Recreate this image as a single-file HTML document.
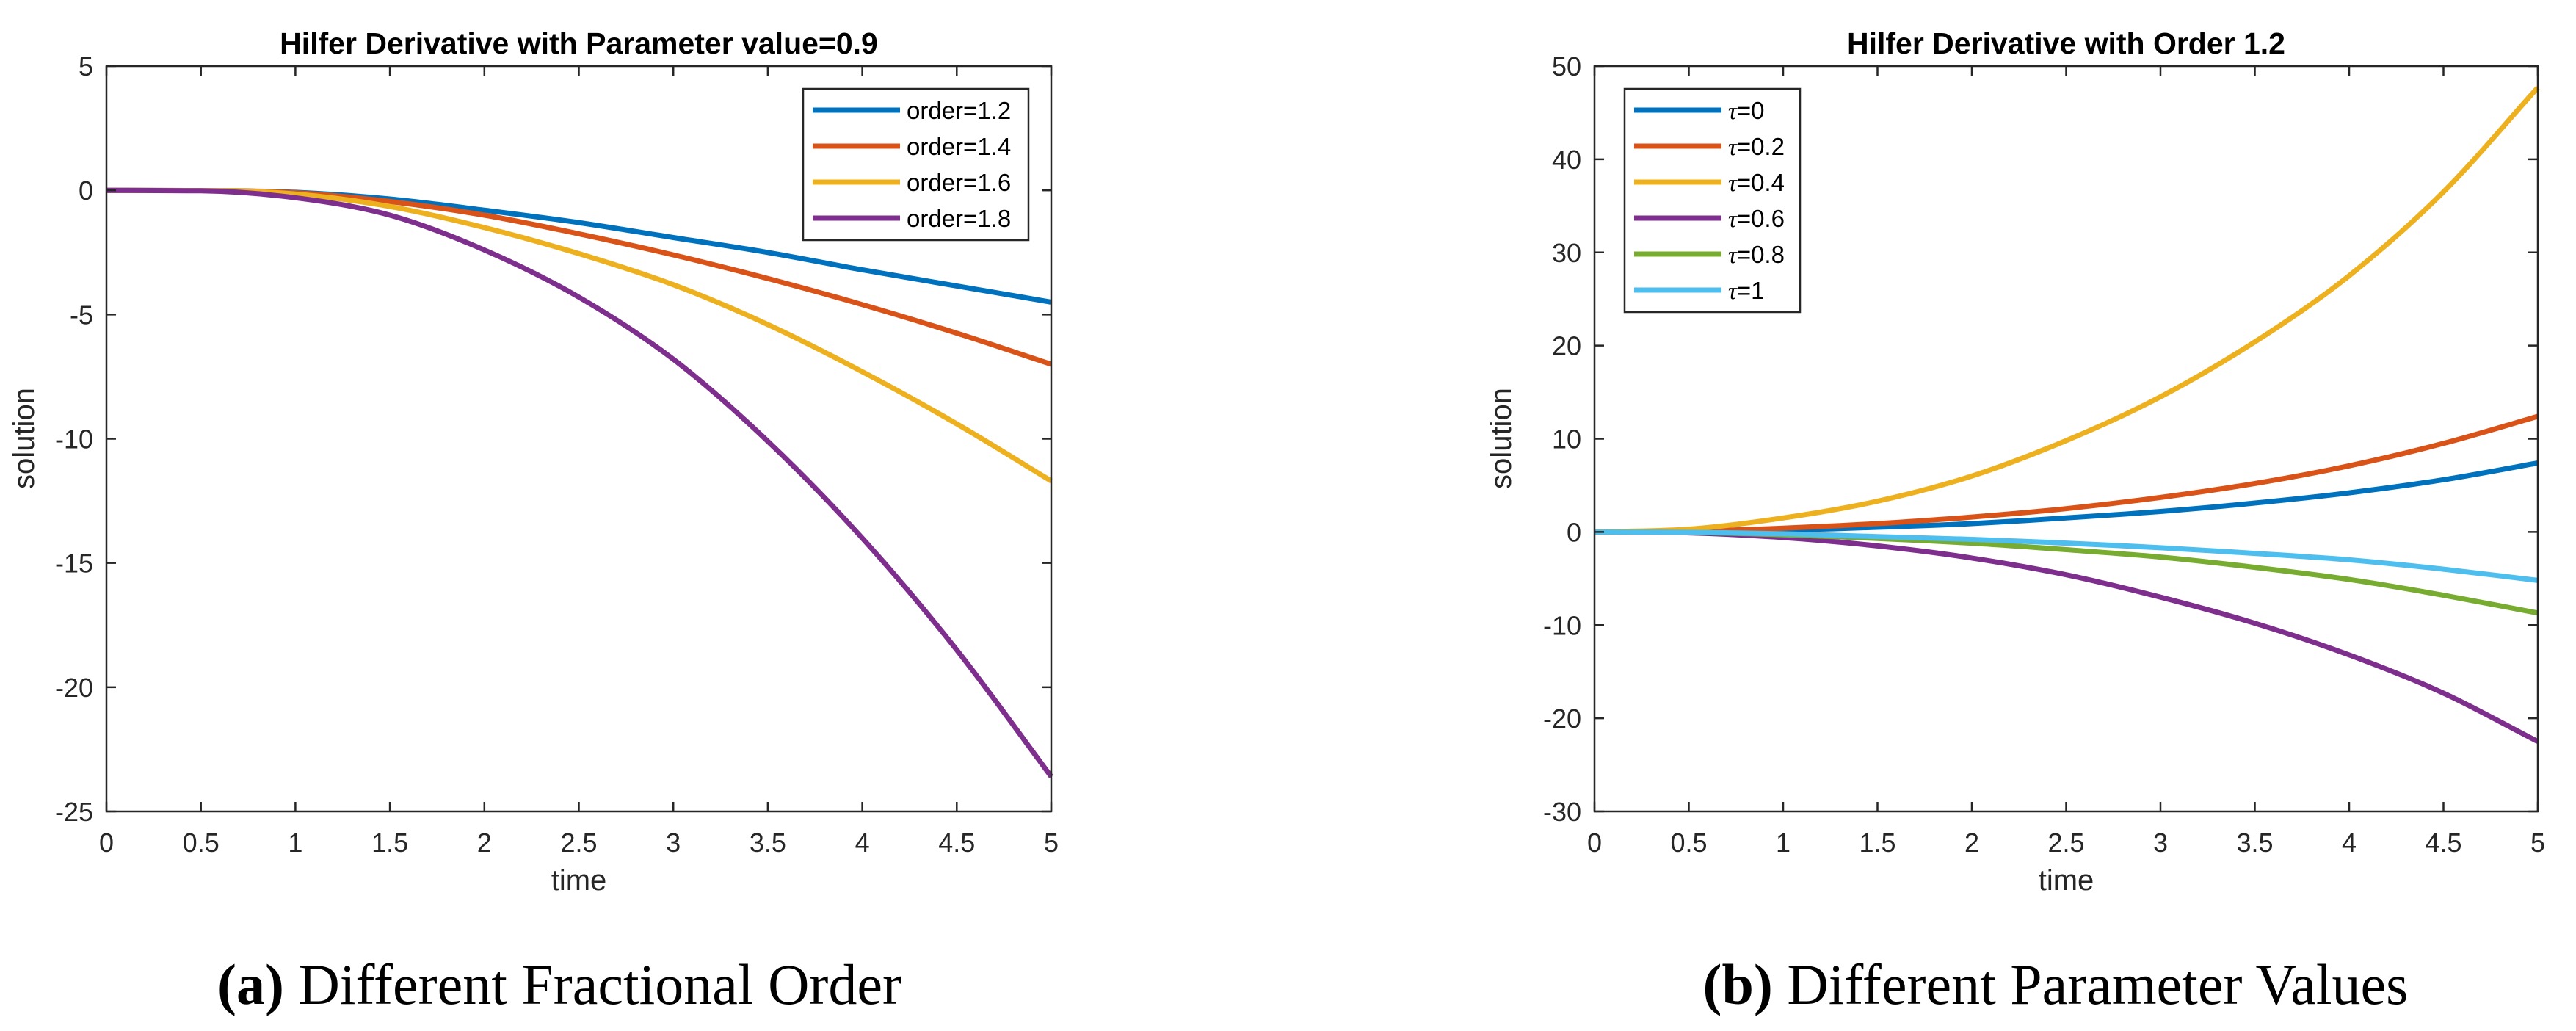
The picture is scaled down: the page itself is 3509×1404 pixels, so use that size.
<!DOCTYPE html>
<html><head><meta charset="utf-8"><style>
html,body{margin:0;padding:0;background:#fff;}
svg{display:block;}
text{font-family:"Liberation Sans",sans-serif;fill:#262626;}
.cap{font-family:"Liberation Serif",serif;fill:#000;}
</style></head><body>
<svg id="fig" width="3509" height="1404" viewBox="0 0 3509 1404" xmlns="http://www.w3.org/2000/svg"></svg>
<script>
const xTicks=[0,0.5,1,1.5,2,2.5,3,3.5,4,4.5,5];
const xTickLabels=["0","0.5","1","1.5","2","2.5","3","3.5","4","4.5","5"];
const leftYTicks=[5,0,-5,-10,-15,-20,-25];
const rightYTicks=[50,40,30,20,10,0,-10,-20,-30];
const tGrid=[0,0.5,1,1.5,2,2.5,3,3.5,4,4.5,5];
const leftNames=["order=1.2","order=1.4","order=1.6","order=1.8"];
const order12=[0,-0.01,-0.08,-0.35,-0.8,-1.3,-1.9,-2.5,-3.2,-3.85,-4.5];
const order14=[0,-0.01,-0.1,-0.45,-1.0,-1.75,-2.6,-3.55,-4.6,-5.75,-7.0];
const order16=[0,-0.01,-0.15,-0.65,-1.5,-2.55,-3.8,-5.4,-7.3,-9.4,-11.7];
const order18=[0,-0.02,-0.3,-1.0,-2.4,-4.3,-6.8,-10.1,-14.0,-18.5,-23.6];
const rightNames=["0","0.2","0.4","0.6","0.8","1"];
const tau0=[0,0.05,0.2,0.5,0.9,1.5,2.2,3.1,4.2,5.6,7.4];
const tau02=[0,0.08,0.4,0.9,1.6,2.5,3.7,5.2,7.1,9.5,12.4];
const tau04=[0,0.3,1.5,3.3,6.0,9.8,14.5,20.4,27.5,36.5,47.7];
const tau06=[0,-0.1,-0.6,-1.5,-2.8,-4.6,-7.0,-9.8,-13.2,-17.3,-22.5];
const tau08=[0,-0.05,-0.3,-0.7,-1.2,-1.9,-2.7,-3.8,-5.1,-6.8,-8.7];
const tau1=[0,-0.04,-0.2,-0.5,-0.8,-1.2,-1.7,-2.3,-3.0,-4.0,-5.2];
const colors=["#0072BD","#D95319","#EDB120","#7E2F8E","#77AC30","#4DBEEE"];

const NS="http://www.w3.org/2000/svg";
const svg=document.getElementById('fig');
function mk(tag,attrs,parent){const e=document.createElementNS(NS,tag);for(const k in attrs)e.setAttribute(k,attrs[k]);(parent||svg).appendChild(e);return e;}

// monotone cubic (Fritsch-Carlson) path
function smoothPath(pts){
  const n=pts.length,dx=[],m=[],t=[];
  for(let i=0;i<n-1;i++){dx[i]=pts[i+1][0]-pts[i][0];m[i]=(pts[i+1][1]-pts[i][1])/dx[i];}
  t[0]=m[0];t[n-1]=m[n-2];
  for(let i=1;i<n-1;i++){t[i]=(m[i-1]*m[i]<=0)?0:(m[i-1]+m[i])/2;}
  for(let i=0;i<n-1;i++){
    if(m[i]===0){t[i]=0;t[i+1]=0;continue;}
    const a=t[i]/m[i],b=t[i+1]/m[i],s=a*a+b*b;
    if(s>9){const k=3/Math.sqrt(s);t[i]=k*a*m[i];t[i+1]=k*b*m[i];}
  }
  let d="M"+pts[0][0].toFixed(1)+","+pts[0][1].toFixed(1);
  for(let i=0;i<n-1;i++){
    const h=dx[i]/3;
    d+=" C"+(pts[i][0]+h).toFixed(1)+","+(pts[i][1]+t[i]*h).toFixed(1)+" "+(pts[i+1][0]-h).toFixed(1)+","+(pts[i+1][1]-t[i+1]*h).toFixed(1)+" "+pts[i+1][0].toFixed(1)+","+pts[i+1][1].toFixed(1);
  }
  return d;
}

function panel(cfg){
  const g=mk('g',{});
  
  
  const L=cfg.x0,R=cfg.x1,T=90,B=1105;
  const sx=v=>L+(v-0)/(5-0)*(R-L);
  const sy=v=>T+(cfg.ymax-v)/(cfg.ymax-cfg.ymin)*(B-T);
  cfg.series.forEach((s,i)=>{
    const pts=tGrid.map((t,j)=>[sx(t),sy(s[j])]);
    const p=mk('path',{d:smoothPath(pts),fill:'none',stroke:colors[i],'stroke-width':7,'stroke-linejoin':'round'},g);
    
    
  });
  const box=mk('rect',{x:L,y:T,width:R-L,height:B-T,fill:'none',stroke:'#262626','stroke-width':2.5},g);
  
  
  xTicks.forEach((t,i)=>{
    const x=sx(t);
    mk('line',{x1:x,y1:B,x2:x,y2:B-13,stroke:'#262626','stroke-width':2.5},g);
    mk('line',{x1:x,y1:T,x2:x,y2:T+13,stroke:'#262626','stroke-width':2.5},g);
    const tx=mk('text',{x:x,y:1160,'font-size':36,'text-anchor':'middle'},g);
    tx.textContent=xTickLabels[i];
    
    
  });
  cfg.yTicks.forEach(v=>{
    const y=sy(v);
    mk('line',{x1:L,y1:y,x2:L+13,y2:y,stroke:'#262626','stroke-width':2.5},g);
    mk('line',{x1:R,y1:y,x2:R-13,y2:y,stroke:'#262626','stroke-width':2.5},g);
    const tx=mk('text',{x:L-18,y:y+13,'font-size':36,'text-anchor':'end'},g);
    tx.textContent=String(v);
    
    
  });
  const cx=(L+R)/2;
  const ti=mk('text',{x:cx,y:73,'font-size':41,'font-weight':'bold','text-anchor':'middle'},g);
  ti.textContent=cfg.title;ti.style.fill='#000';
  
  
  const xl=mk('text',{x:cx,y:1212,'font-size':40,'text-anchor':'middle'},g);
  xl.textContent='time';
  
  
  const yl=mk('text',{x:0,y:0,'font-size':40,'text-anchor':'middle',transform:'translate('+(cfg.ylx)+',597) rotate(-90)'},g);
  yl.textContent='solution';
  
  
  const lg=mk('g',{},g);
  
  
  const lb=cfg.leg;
  mk('rect',{x:lb.x,y:lb.y,width:lb.w,height:lb.h,fill:'#fff',stroke:'#262626','stroke-width':2.5},lg);
  cfg.names.forEach((n,i)=>{
    const y=150+49*i;
    const e=mk('g',{},lg);
    
    
    mk('line',{x1:lb.x+13,y1:y,x2:lb.x+132,y2:y,stroke:colors[i],'stroke-width':7},e);
    const t=mk('text',{x:lb.x+141,y:y+12,'font-size':33},e);
    t.style.fill='#000';
    if(cfg.tau){
      const s1=mk('tspan',{'font-family':'Liberation Serif','font-style':'italic'},t);s1.textContent='τ';
      const s2=mk('tspan',{},t);s2.textContent='='+n;
    } else t.textContent=n;
  });
  const cap=mk('text',{x:cfg.capx,y:1367,'font-size':78,'text-anchor':'middle',class:'cap'},g);
  
  
  const b=mk('tspan',{'font-weight':'bold'},cap);b.textContent=cfg.capLabel;
  const r=mk('tspan',{},cap);r.textContent=' '+cfg.capText;
}

panel({name:'left-chart',x0:145,x1:1432,ymin:-25,ymax:5,yTicks:leftYTicks,
  series:[order12,order14,order16,order18],names:leftNames,tau:false,
  title:'Hilfer Derivative with Parameter value=0.9',ylx:46,
  leg:{x:1094,y:121,w:307,h:206},capx:762,capLabel:'(a)',capText:'Different Fractional Order'});
panel({name:'right-chart',x0:2172,x1:3457,ymin:-30,ymax:50,yTicks:rightYTicks,
  series:[tau0,tau02,tau04,tau06,tau08,tau1],names:rightNames,tau:true,
  title:'Hilfer Derivative with Order 1.2',ylx:2058,
  leg:{x:2213,y:121,w:239,h:304},capx:2800,capLabel:'(b)',capText:'Different Parameter Values'});
</script>
</body></html>
